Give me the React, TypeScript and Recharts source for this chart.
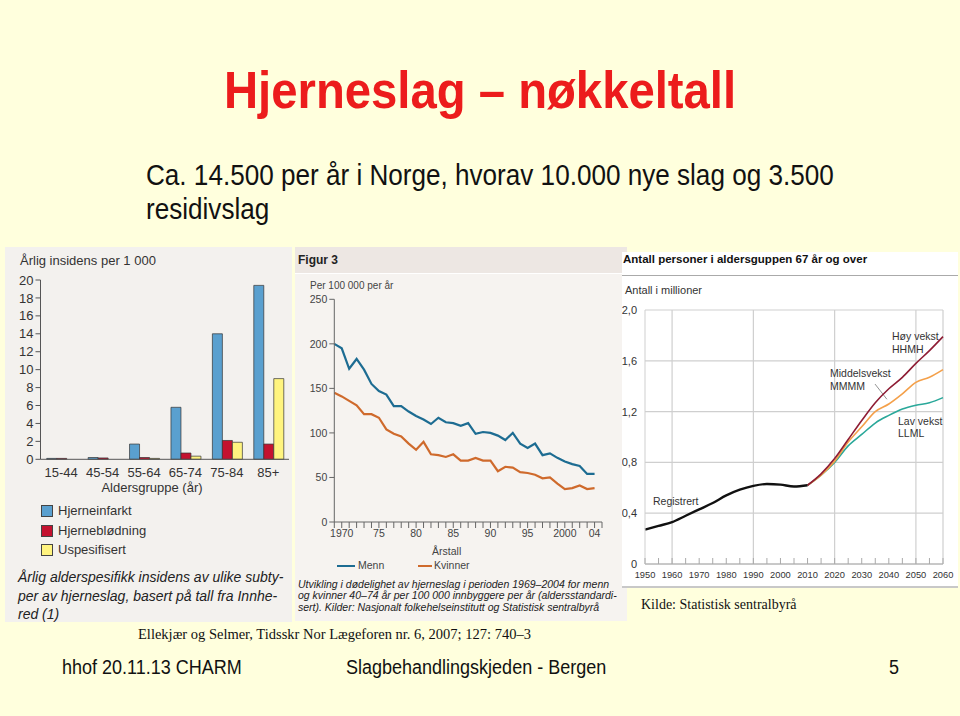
import React from 'react';
import {
  BarChart,
  Bar,
  XAxis,
  YAxis,
  LineChart,
  Line,
  CartesianGrid,
  ReferenceLine,
} from 'recharts';

// ---------- Left chart: incidence by age group ----------
const ageGroups = ['15-44', '45-54', '55-64', '65-74', '75-84', '85+'];
const hjerneinfarkt = [0.1, 0.2, 1.7, 5.8, 14.0, 19.4];
const hjerneblodning = [0.1, 0.15, 0.2, 0.7, 2.1, 1.7];
const uspesifisert = [0.0, 0.0, 0.1, 0.35, 1.9, 9.0];
const incidenceTicks = [0, 2, 4, 6, 8, 10, 12, 14, 16, 18, 20];

// ---------- Middle chart: mortality 1969-2004 ----------
const mortYears = [
  1969, 1970, 1971, 1972, 1973, 1974, 1975, 1976, 1977, 1978, 1979, 1980,
  1981, 1982, 1983, 1984, 1985, 1986, 1987, 1988, 1989, 1990, 1991, 1992,
  1993, 1994, 1995, 1996, 1997, 1998, 1999, 2000, 2001, 2002, 2003, 2004,
];
const menn = [
  200, 195, 172, 183, 171, 155, 147, 143, 130, 130, 124, 119,
  115, 110, 117, 112, 111, 108, 111, 99, 101, 100, 97, 92,
  100, 88, 83, 88, 75, 77, 72, 68, 65, 63, 54, 54,
];
const kvinner = [
  145, 141, 136, 131, 121, 121, 117, 104, 99, 96, 88, 81,
  90, 76, 75, 73, 76, 69, 69, 72, 69, 69, 57, 62,
  61, 56, 55, 53, 49, 50, 43, 37, 38, 41, 37, 38,
];
const mortTickYears = [
  1969, 1970, 1971, 1972, 1973, 1974, 1975, 1976, 1977, 1978, 1979, 1980,
  1981, 1982, 1983, 1984, 1985, 1986, 1987, 1988, 1989, 1990, 1991, 1992,
  1993, 1994, 1995, 1996, 1997, 1998, 1999, 2000, 2001, 2002, 2003, 2004, 2005,
];
const mortLabelYears = [1970, 1975, 1980, 1985, 1990, 1995, 2000, 2004];
const mortLabels = ['1970', '75', '80', '85', '90', '95', '2000', '04'];
const mortYTicks = [0, 50, 100, 150, 200, 250];

// ---------- Right chart: persons 67+ (millions) ----------
const regYears = [1950, 1955, 1960, 1965, 1970, 1975, 1980, 1985, 1990, 1995, 2000, 2005, 2010];
const registrert = [0.27, 0.3, 0.33, 0.38, 0.43, 0.48, 0.54, 0.585, 0.615, 0.63, 0.625, 0.61, 0.62];
const projYears = [2010, 2015, 2020, 2025, 2030, 2035, 2040, 2045, 2050, 2055, 2060];
const hoyVekst = [0.62, 0.71, 0.83, 0.98, 1.13, 1.27, 1.38, 1.47, 1.58, 1.68, 1.79];
const middelsVekst = [0.62, 0.7, 0.81, 0.96, 1.08, 1.2, 1.26, 1.34, 1.43, 1.47, 1.53];
const lavVekst = [0.62, 0.7, 0.8, 0.93, 1.02, 1.11, 1.17, 1.22, 1.25, 1.27, 1.31];
const popXTicks = [
  1950, 1955, 1960, 1965, 1970, 1975, 1980, 1985, 1990, 1995, 2000, 2005,
  2010, 2015, 2020, 2025, 2030, 2035, 2040, 2045, 2050, 2055, 2060,
];
const popXLabelYears = [1950, 1960, 1970, 1980, 1990, 2000, 2010, 2020, 2030, 2040, 2050, 2060];
const popYTicks = [0, 0.4, 0.8, 1.2, 1.6, 2.0];
const popVGrid = [1960, 1990, 2020, 2050, 2060];
const middelsLeader = [
  { x: 2034.9, y: 1.417 },
  { x: 2039.3, y: 1.297 },
];

// ---------- Build tables ----------
const barData = ageGroups.map((g, i) => ({
  group: g,
  infarkt: hjerneinfarkt[i],
  blodning: hjerneblodning[i],
  uspes: uspesifisert[i],
}));
const mortData = mortYears.map((y, i) => ({ year: y, menn: menn[i], kvinner: kvinner[i] }));
const popYearSet = Array.from(new Set([...regYears, ...projYears])).sort((a, b) => a - b);
const popData = popYearSet.map((y) => {
  const ri = regYears.indexOf(y);
  const pi = projYears.indexOf(y);
  return {
    year: y,
    reg: ri >= 0 ? registrert[ri] : null,
    hoy: pi >= 0 ? hoyVekst[pi] : null,
    mid: pi >= 0 ? middelsVekst[pi] : null,
    lav: pi >= 0 ? lavVekst[pi] : null,
  };
});

// ---------- Styling ----------
const FONT = '"Liberation Sans", Arial, Helvetica, sans-serif';
const SERIF = '"Liberation Serif", "Times New Roman", serif';
const BG = '#FFFFDD';
const C_BLUE = '#5AA0CF';
const C_RED = '#C4122F';
const C_YELLOW = '#FFF47F';
const C_MENN = '#1D6C92';
const C_KVINNER = '#CF6A2C';
const C_HOY = '#8E1C34';
const C_MID = '#F4A04A';
const C_LAV = '#2AA89A';

type TxtProps = {
  x: number;
  cy: number;
  size: number;
  children: React.ReactNode;
  style?: React.CSSProperties;
};
const Txt = ({ x, cy, size, children, style }: TxtProps) => (
  <div
    style={{
      position: 'absolute',
      left: x,
      top: cy - size / 2,
      fontSize: size,
      lineHeight: `${size}px`,
      whiteSpace: 'nowrap',
      fontFamily: FONT,
      color: '#333',
      ...style,
    }}
  >
    {children}
  </div>
);

const Box = ({ l, t, w, h, bg, style }: { l: number; t: number; w: number; h: number; bg: string; style?: React.CSSProperties }) => (
  <div style={{ position: 'absolute', left: l, top: t, width: w, height: h, background: bg, ...style }} />
);

const PopXTick = (props: any) => {
  const { x, y, payload } = props;
  const axisY = y - 8;
  const show = popXLabelYears.includes(payload.value);
  return (
    <g>
      <line x1={x} x2={x} y1={axisY} y2={axisY - 6} stroke="#aaa" strokeWidth={1} />
      {show && (
        <text x={x} y={axisY + 14} textAnchor="middle" fontSize={9.3} fill="#333" fontFamily={FONT}>
          {payload.value}
        </text>
      )}
    </g>
  );
};

const mortTickFormatter = (v: number) => {
  const i = mortLabelYears.indexOf(v);
  return i >= 0 ? mortLabels[i] : '';
};
const popYFormatter = (v: number) => (v === 0 ? '0' : v.toFixed(1).replace('.', ','));

export default function App() {
  return (
    <div
      style={{
        position: 'absolute',
        left: 0,
        top: 0,
        width: 960,
        height: 716,
        background: BG,
        overflow: 'hidden',
        fontFamily: FONT,
      }}
    >
      {/* Title */}
      <div
        style={{
          position: 'absolute',
          left: 224,
          top: 63.6,
          fontSize: 52.5,
          lineHeight: '52.5px',
          fontWeight: 'bold',
          color: '#EC1C1C',
          whiteSpace: 'nowrap',
          transform: 'scaleX(0.9)',
          transformOrigin: 'left top',
        }}
      >
        Hjerneslag – nøkkeltall
      </div>
      <div
        style={{
          position: 'absolute',
          left: 146,
          top: 157.5,
          fontSize: 29,
          lineHeight: '34px',
          color: '#111',
          whiteSpace: 'nowrap',
          transform: 'scaleX(0.9)',
          transformOrigin: 'left top',
        }}
      >
        Ca. 14.500 per år i Norge, hvorav 10.000 nye slag og 3.500
        <br />
        residivslag
      </div>

      {/* Panels */}
      <Box l={5} t={247} w={287} h={375} bg="#F3F1EE" />
      <Box l={295} t={247} w={332} h={374} bg="#F6F3F0" />
      <Box l={295} t={247} w={332} h={26} bg="#EDE7E3" />
      <Box l={295} t={273} w={332} h={1} bg="#FFFFFF" />
      <Box l={622} t={252} w={336} h={335} bg="#FFFFFF" />
      <Box l={622} t={275} w={336} h={1} bg="#AAAAAA" />
      <Box l={622} t={586} w={336} h={2} bg="#C8C8C8" />

      {/* Left panel */}
      <Txt x={20} cy={260} size={13}>Årlig insidens per 1 000</Txt>
      <div style={{ position: 'absolute', left: 0, top: 245 }}>
        <BarChart
          width={292}
          height={245}
          data={barData}
          margin={{ top: 35, right: 3, bottom: 0.7, left: 0 }}
          barCategoryGap="15%"
          barGap={0}
        >
          <XAxis
            dataKey="group"
            tickLine={false}
            axisLine={{ stroke: '#555' }}
            tick={{ fontSize: 13, fill: '#333', fontFamily: FONT }}
            height={30}
            interval={0}
          />
          <YAxis
            domain={[0, 20]}
            ticks={incidenceTicks}
            width={40.5}
            tickSize={5}
            tickLine={{ stroke: '#555' }}
            axisLine={{ stroke: '#555' }}
            tick={{ fontSize: 13, fill: '#333', fontFamily: FONT }}
            interval={0}
          />
          <Bar dataKey="infarkt" fill={C_BLUE} stroke="#333" strokeWidth={0.7} isAnimationActive={false} />
          <Bar dataKey="blodning" fill={C_RED} stroke="#333" strokeWidth={0.7} isAnimationActive={false} />
          <Bar dataKey="uspes" fill={C_YELLOW} stroke="#333" strokeWidth={0.7} isAnimationActive={false} />
        </BarChart>
      </div>
      <Txt x={72} cy={487} size={13} style={{ width: 160, textAlign: 'center' }}>Aldersgruppe (år)</Txt>
      {[
        { c: C_BLUE, t: 'Hjerneinfarkt', cy: 510.7 },
        { c: C_RED, t: 'Hjerneblødning', cy: 530 },
        { c: C_YELLOW, t: 'Uspesifisert', cy: 549.3 },
      ].map((d) => (
        <React.Fragment key={d.t}>
          <div
            style={{
              position: 'absolute',
              left: 41,
              top: d.cy - 5.5,
              width: 10,
              height: 10,
              background: d.c,
              border: '1px solid #444',
            }}
          />
          <Txt x={58} cy={d.cy} size={13}>{d.t}</Txt>
        </React.Fragment>
      ))}
      <Txt x={18} cy={577.3} size={14} style={{ fontStyle: 'italic', color: '#222' }}>
        Årlig alderspesifikk insidens av ulike subty-
      </Txt>
      <Txt x={18} cy={596} size={14} style={{ fontStyle: 'italic', color: '#222' }}>
        per av hjerneslag, basert på tall fra Innhe-
      </Txt>
      <Txt x={18} cy={614} size={14} style={{ fontStyle: 'italic', color: '#222' }}>
        red (1)
      </Txt>

      {/* Middle panel */}
      <Txt x={298} cy={260} size={12} style={{ fontWeight: 'bold', color: '#222' }}>Figur 3</Txt>
      <Txt x={310} cy={285.7} size={10} style={{ color: '#444' }}>Per 100 000 per år</Txt>
      <div style={{ position: 'absolute', left: 296, top: 272 }}>
        <LineChart
          width={331}
          height={275}
          data={mortData}
          margin={{ top: 27.3, right: 25, bottom: 0, left: 0 }}
        >
          <XAxis
            dataKey="year"
            type="number"
            domain={[1969, 2005]}
            ticks={mortTickYears}
            interval={0}
            tickFormatter={mortTickFormatter}
            tickSize={6}
            tickLine={{ stroke: '#666' }}
            axisLine={{ stroke: '#666' }}
            tick={{ fontSize: 10.5, fill: '#444', fontFamily: FONT }}
            height={25}
          />
          <YAxis
            domain={[0, 250]}
            ticks={mortYTicks}
            width={38.3}
            tickSize={5}
            tickLine={{ stroke: '#666' }}
            axisLine={{ stroke: '#666' }}
            tick={{ fontSize: 10.5, fill: '#444', fontFamily: FONT }}
            interval={0}
          />
          <Line type="linear" dataKey="menn" stroke={C_MENN} strokeWidth={2.2} dot={false} isAnimationActive={false} />
          <Line type="linear" dataKey="kvinner" stroke={C_KVINNER} strokeWidth={2.2} dot={false} isAnimationActive={false} />
        </LineChart>
      </div>
      <Txt x={406.7} cy={551} size={10.5} style={{ width: 80, textAlign: 'center', color: '#444' }}>Årstall</Txt>
      <Box l={336.7} t={564.5} w={18.3} h={2.5} bg={C_MENN} />
      <Txt x={358} cy={565.7} size={10.5} style={{ color: '#444' }}>Menn</Txt>
      <Box l={418} t={564.5} w={14} h={2.5} bg={C_KVINNER} />
      <Txt x={434} cy={565.7} size={10.5} style={{ color: '#444' }}>Kvinner</Txt>
      <Txt x={298} cy={584.3} size={10.5} style={{ fontStyle: 'italic', color: '#222' }}>
        Utvikling i dødelighet av hjerneslag i perioden 1969–2004 for menn
      </Txt>
      <Txt x={298} cy={595.7} size={10.5} style={{ fontStyle: 'italic', color: '#222' }}>
        og kvinner 40–74 år per 100 000 innbyggere per år (aldersstandardi-
      </Txt>
      <Txt x={298} cy={607.3} size={10.5} style={{ fontStyle: 'italic', color: '#222' }}>
        sert). Kilder: Nasjonalt folkehelseinstitutt og Statistisk sentralbyrå
      </Txt>

      {/* Right panel */}
      <Txt x={623} cy={260} size={11.5} style={{ fontWeight: 'bold', color: '#111' }}>
        Antall personer i aldersguppen 67 år og over
      </Txt>
      <Txt x={625} cy={290} size={11} style={{ color: '#333' }}>Antall i millioner</Txt>
      <div style={{ position: 'absolute', left: 622, top: 295 }}>
        <LineChart
          width={336}
          height={294}
          data={popData}
          margin={{ top: 15, right: 15, bottom: 0, left: 0 }}
        >
          <CartesianGrid vertical={false} stroke="#CFCFCF" strokeWidth={1.2} />
          {popVGrid.map((v) => (
            <ReferenceLine key={v} x={v} stroke="#CFCFCF" strokeWidth={1.2} />
          ))}
          <XAxis
            dataKey="year"
            type="number"
            domain={[1950, 2060]}
            ticks={popXTicks}
            interval={0}
            tickLine={false}
            axisLine={{ stroke: '#AAAAAA' }}
            tick={<PopXTick />}
            height={25}
          />
          <YAxis
            domain={[0, 2]}
            ticks={popYTicks}
            width={23}
            tickLine={false}
            axisLine={{ stroke: '#CFCFCF' }}
            tickFormatter={popYFormatter}
            tick={{ fontSize: 11, fill: '#333', fontFamily: FONT }}
            interval={0}
          />
          <ReferenceLine segment={middelsLeader} stroke="#777" strokeWidth={0.8} ifOverflow="visible" />
          <Line type="monotone" dataKey="lav" stroke={C_LAV} strokeWidth={1.6} dot={false} isAnimationActive={false} />
          <Line type="monotone" dataKey="mid" stroke={C_MID} strokeWidth={1.6} dot={false} isAnimationActive={false} />
          <Line type="monotone" dataKey="hoy" stroke={C_HOY} strokeWidth={1.6} dot={false} isAnimationActive={false} />
          <Line type="monotone" dataKey="reg" stroke="#111" strokeWidth={2.4} dot={false} isAnimationActive={false} />
        </LineChart>
      </div>
      <Txt x={892} cy={336} size={10.5} style={{ color: '#333' }}>Høy vekst</Txt>
      <Txt x={892} cy={349} size={10.5} style={{ color: '#333' }}>HHMH</Txt>
      <Txt x={830} cy={373} size={10.5} style={{ color: '#333' }}>Middelsvekst</Txt>
      <Txt x={830} cy={386.7} size={10.5} style={{ color: '#333' }}>MMMM</Txt>
      <Txt x={898} cy={421.7} size={10.5} style={{ color: '#333' }}>Lav vekst</Txt>
      <Txt x={898} cy={433.3} size={10.5} style={{ color: '#333' }}>LLML</Txt>
      <Txt x={653} cy={501.7} size={10.5} style={{ color: '#333' }}>Registrert</Txt>

      {/* Sources & footer */}
      <Txt x={641} cy={605} size={14} style={{ fontFamily: SERIF, color: '#111' }}>
        Kilde: Statistisk sentralbyrå
      </Txt>
      <Txt x={138} cy={634} size={14.5} style={{ fontFamily: SERIF, color: '#111' }}>
        Ellekjær og Selmer, Tidsskr Nor Lægeforen nr. 6, 2007; 127: 740–3
      </Txt>
      <Txt x={62} cy={667} size={20} style={{ color: '#111', transform: 'scaleX(0.9)', transformOrigin: 'left center' }}>
        hhof 20.11.13 CHARM
      </Txt>
      <Txt x={346} cy={667} size={20} style={{ color: '#111', transform: 'scaleX(0.9)', transformOrigin: 'left center' }}>
        Slagbehandlingskjeden - Bergen
      </Txt>
      <Txt x={889} cy={667} size={20} style={{ color: '#111', transform: 'scaleX(0.9)', transformOrigin: 'left center' }}>
        5
      </Txt>
    </div>
  );
}
